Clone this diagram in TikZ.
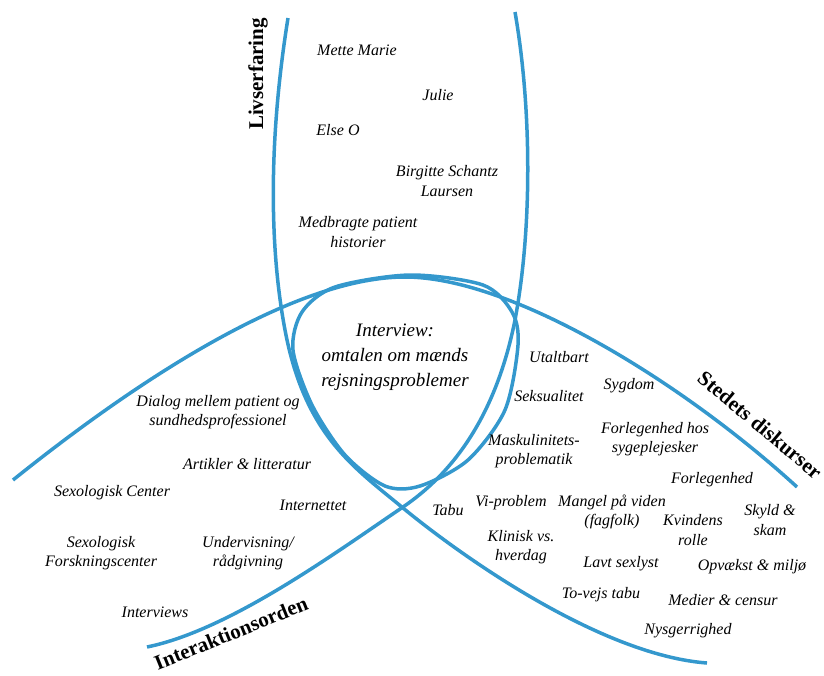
\documentclass[tikz,border=0pt]{standalone}
\usepackage{fontspec}
\setmainfont{Liberation Serif}
\usepackage{tikz}
\usetikzlibrary{positioning}
\definecolor{arcblue}{RGB}{52,152,205}

\begin{document}
\begin{tikzpicture}[x=1pt, y=-1pt,
  arc/.style={draw=arcblue, line width=3.5pt},
  item/.style={font=\itshape\fontsize{16}{19.5}\selectfont, align=center},
  mid/.style={font=\itshape\fontsize{19}{25}\selectfont, align=center},
  lbl/.style={font=\bfseries\fontsize{21}{25}\selectfont}]
\useasboundingbox (0,0) rectangle (824,675);
% the three big arcs
\draw[arc] (288,18) .. controls (270,130) and (268,240) .. (285,330)
  .. controls (305,436) and (355,468) .. (403,508)
  .. controls (460,555) and (600,655) .. (707,663);
\draw[arc] (515,12) .. controls (532,110) and (532,230) .. (515,320)
  .. controls (495,420) and (450,475) .. (403,507)
  .. controls (335,553) and (230,630) .. (147,647);
\draw[arc] (13,480) .. controls (150,370) and (300,277) .. (405,277)
  .. controls (510,277) and (680,380) .. (797,487);
% the loop in the middle
\draw[arc] plot[smooth cycle] coordinates {(410,275) (483,285) (512,312) (518,345) (505,410) (468,460) (420,486) (385,486) (345,455) (312,405) (293,350) (302,312) (335,287)};
\node[mid] (interview) at (395,357) {Interview:\\omtalen om mænds\\rejsningsproblemer};
% labels on the arcs
\node[lbl, rotate=90] (livs) at (258,74) {Livserfaring};
\node[lbl, rotate=-40] (sted) at (760,425) {Stedets diskurser};
\node[lbl, rotate=22] (inter) at (231,633) {Interaktionsorden};
% top: livserfaring
\node[item] (mette) at (357,50) {Mette Marie};
\node[item] (julie) at (438,95) {Julie};
\node[item] (else) at (338,130) {Else O};
\node[item] (birgitte) at (447,181) {Birgitte Schantz\\Laursen};
\node[item] (medbragte) at (358,232) {Medbragte patient\\historier};
% left: interaktionsorden
\node[item] (dialog) at (218,412) {Dialog mellem patient og\\sundhedsprofessionel};
\node[item] (artikler) at (247,464) {Artikler \& litteratur};
\node[item] (sexcenter) at (112,493) {Sexologisk Center};
\node[item] (internet) at (313,505) {Internettet};
\node[item] (forskning) at (101,553) {Sexologisk\\Forskningscenter};
\node[item] (undervis) at (248,553) {Undervisning/\\rådgivning};
\node[item] (interviews) at (155,612) {Interviews};
% right: stedets diskurser
\node[item] (utaltbart) at (559,357) {Utaltbart};
\node[item] (sygdom) at (629,386) {Sygdom};
\node[item] (seksual) at (549,396) {Seksualitet};
\node[item] (maskul) at (534,451) {Maskulinitets-\\problematik};
\node[item] (forlhos) at (655,439) {Forlegenhed hos\\sygeplejesker};
\node[item] (forl) at (712,480) {Forlegenhed};
\node[item] (tabu) at (448,510) {Tabu};
\node[item] (vi) at (511,503) {Vi-problem};
\node[item] (mangel) at (612,512) {Mangel på viden\\(fagfolk)};
\node[item] (kvinde) at (693,530) {Kvindens\\rolle};
\node[item] (skyld) at (770,520) {Skyld \&\\skam};
\node[item] (klinisk) at (521,547) {Klinisk vs.\\hverdag};
\node[item] (lavt) at (621,564) {Lavt sexlyst};
\node[item] (opvaekst) at (752,567) {Opvækst \& miljø};
\node[item] (tovejs) at (601,595) {To-vejs tabu};
\node[item] (medier) at (723,600) {Medier \& censur};
\node[item] (nysg) at (688,631) {Nysgerrighed};
\end{tikzpicture}
\end{document}
